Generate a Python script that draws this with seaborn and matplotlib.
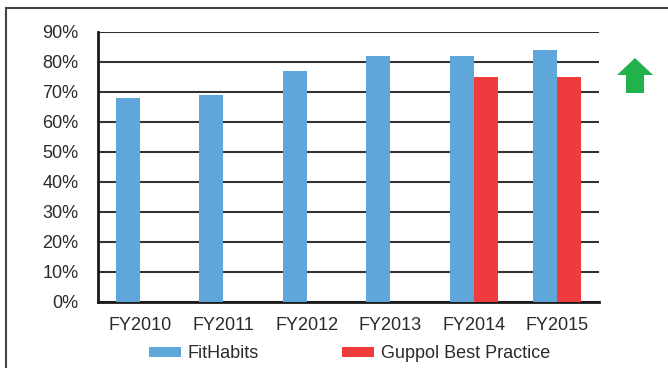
import numpy as np
import pandas as pd
import seaborn as sns
import matplotlib.pyplot as plt
from matplotlib.patches import Patch, Polygon, Rectangle

# data
years = ['FY2010', 'FY2011', 'FY2012', 'FY2013', 'FY2014', 'FY2015']
fithabits = [68, 69, 77, 82, 82, 84]
guppol_years = ['FY2014', 'FY2015']
guppol = [75, 75]
series = ['FitHabits', 'Guppol Best Practice']
colors = ['#5FA6DA', '#EF3B3E']

df = pd.concat([
    pd.DataFrame({'Year': years, 'Value': fithabits, 'Series': series[0]}),
    pd.DataFrame({'Year': guppol_years, 'Value': guppol, 'Series': series[1]}),
])

sns.set_style('white')
plt.rcParams['font.family'] = ['Liberation Sans', 'DejaVu Sans']
plt.rcParams['font.size'] = 13
text_color = '#2a2a2a'

fig = plt.figure(figsize=(6.68, 3.68), dpi=100)
ax = fig.add_axes([98 / 668, 1 - 302 / 368, 501 / 668, 270 / 368])

sns.barplot(data=df, x='Year', y='Value', hue='Series', order=years,
            hue_order=series, palette=colors, width=0.575, dodge=True,
            saturation=1, linewidth=0, ax=ax, legend=False, zorder=3)

ax.set_xlim(-0.5, len(years) - 0.5)
ax.set_ylim(0, 90)
ax.set_yticks(range(0, 91, 10))
ax.set_yticklabels([f'{v}%' for v in range(0, 91, 10)], color=text_color)
ax.set_xticks(np.arange(-0.5, len(years), 1), minor=True)
ax.tick_params(axis='x', which='major', length=0, pad=11, labelcolor=text_color)
ax.tick_params(axis='x', which='minor', length=5, width=1.5, color='#222', direction='out')
ax.tick_params(axis='y', length=6, width=1.5, color='#222', direction='out', pad=8)
ax.set_xlabel('')
ax.set_ylabel('')

ax.yaxis.grid(True, color='#333333', lw=1.5, zorder=0)
ax.set_axisbelow(True)
for s in ['top', 'right']:
    ax.spines[s].set_visible(False)
for s in ['left', 'bottom']:
    ax.spines[s].set_color('#1a1a1a')
    ax.spines[s].set_linewidth(2)

handles = [Patch(facecolor=c, edgecolor='none') for c in colors]
fig.legend(handles, series, loc='center left', bbox_to_anchor=(149 / 668, 1 - 354 / 368),
           ncol=2, frameon=False, handlelength=1.75, handleheight=0.5,
           handletextpad=0.4, columnspacing=4.6, labelcolor=text_color,
           borderaxespad=0, borderpad=0)

# green up arrow at right
pts = [(635, 58), (617, 75), (626, 75), (626, 93), (644, 93), (644, 75), (653, 75)]
fig.patches.append(Polygon([(x / 668, 1 - y / 368) for x, y in pts], closed=True,
                           facecolor='#22B24C', edgecolor='none',
                           transform=fig.transFigure))

# outer frame
fig.patches.append(Rectangle((6 / 668, -0.2), 2, 1.2 - 8 / 368, fill=False,
                             edgecolor='#444444', lw=1.5, transform=fig.transFigure))

fig.savefig('out.png', dpi=100)
